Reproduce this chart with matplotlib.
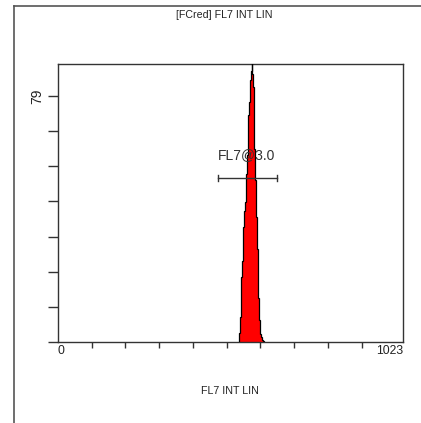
import numpy as np
import matplotlib
matplotlib.use('Agg')
import matplotlib.pyplot as plt
from matplotlib.lines import Line2D

plt.rcParams['font.family'] = ['Liberation Sans', 'DejaVu Sans']

# Histogram counts, 2-channel bins starting at channel 536
bin_start = 536
bin_width = 2
counts = [0.5, 3, 8, 14, 21, 26, 30, 37, 42, 45, 49, 54, 60, 67, 73, 77, 81,
          84, 87, 90, 86, 82, 74, 62, 52, 45, 40, 30, 23, 14, 7, 4, 2.5, 1.5,
          1, 0.5, 0.3]
edges = bin_start + bin_width * np.arange(len(counts) + 1)

x_max = 1023
y_label_value = 79
y_top = 89.3

marker_name = "FL7@3.0"
marker_left, marker_right = 474, 649
marker_level = 52.7

title = "[FCred] FL7 INT LIN"
xlabel = "FL7 INT LIN"

fig = plt.figure(figsize=(4.21, 4.23), dpi=100)
ax = fig.add_axes([58 / 421, 81 / 423, 345 / 421, 278 / 423])

ax.stairs(counts, edges, fill=True, color='#ff0000', zorder=2)
ax.stairs(counts, edges, color='black', lw=0.9, zorder=3)

# marker bar
ax.plot([marker_left, marker_right], [marker_level, marker_level], color='#333333', lw=1, zorder=4)
for xm in (marker_left, marker_right):
    ax.plot([xm, xm], [marker_level - 1.0, marker_level + 1.0], color='#333333', lw=1, zorder=4)
ax.text((marker_left + marker_right) / 2 - 2, marker_level + 7.5, marker_name,
        ha='center', va='center', fontsize=10, color='#333333', zorder=5)

ax.set_xlim(0, x_max)
ax.set_ylim(0, y_top)

ax.set_xticks([0, x_max])
ax.set_xticklabels(['0', '1023'], fontsize=8.8, color='#222222')
ax.set_xticks(range(100, 1000, 100), minor=True)
ax.tick_params(axis='x', which='major', length=0, pad=2)
ax.tick_params(axis='x', which='minor', length=4, width=1, direction='out', color='#333333')
labs = ax.get_xticklabels()
labs[0].set_ha('left')
labs[1].set_ha('right')

yt = np.linspace(0, y_label_value, 8)
ax.set_yticks(yt)
ax.set_yticklabels([''] * 7 + [str(y_label_value)], fontsize=10, rotation=90,
                   va='center', color='#222222')
ax.tick_params(axis='y', length=7, width=1, direction='out', color='#333333', pad=3)

for s in ax.spines.values():
    s.set_color('#333333')
    s.set_linewidth(1)

fig.text(224 / 421, 1 - 15 / 423, title, ha='center', va='center', fontsize=7.7, color='#222222')
fig.text(230 / 421, 1 - 391 / 423, xlabel, ha='center', va='center', fontsize=7.7, color='#222222')

# outer panel border
fig.add_artist(Line2D([14 / 421, 14 / 421], [0, 1 - 6 / 423], color='#555555', lw=1.2))
fig.add_artist(Line2D([14 / 421, 1], [1 - 6 / 423, 1 - 6 / 423], color='#555555', lw=1.2))

fig.savefig('out.png', dpi=100)
